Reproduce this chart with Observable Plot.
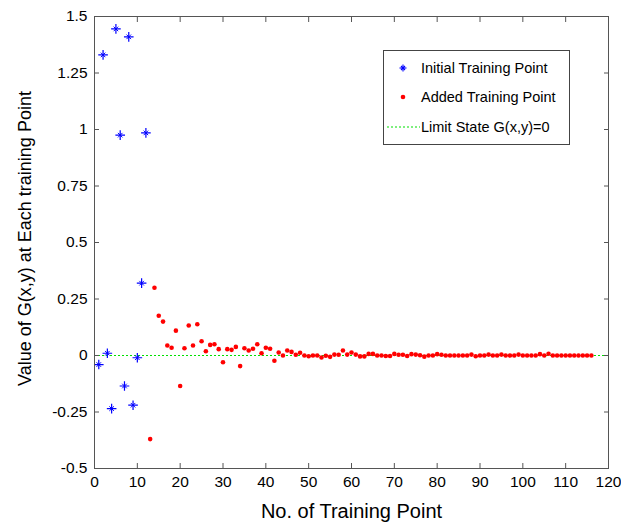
<!DOCTYPE html>
<html>
<head>
<meta charset="utf-8">
<script src="https://cdn.jsdelivr.net/npm/d3@7"></script>
<script src="https://cdn.jsdelivr.net/npm/@observablehq/plot@0.6"></script>
<style>
  body { margin: 0; background: white; }
  #wrap { position: relative; width: 621px; height: 524px; font-family: 'Liberation Sans', Arial, sans-serif; }
  #legend { position: absolute; left: 383px; top: 50px; width: 185px; height: 93px; border: 1px solid #444; background: white; font-size: 14.5px; }
  .row { position: absolute; left: 0; height: 20px; display: flex; align-items: center; white-space: nowrap; }
  .row svg { margin-right: 1px; }
</style>
</head>
<body>
<div id="wrap"></div>
<script>
const initialX = [1, 2, 3, 4, 5, 6, 7, 8, 9, 10, 11, 12];
const initialY = [-0.04, 1.33, 0.01, -0.235, 1.445, 0.975, -0.135, 1.41, -0.22, -0.01, 0.32, 0.985];
const addedStart = 13;
const addedY = [
  -0.37, 0.30, 0.176, 0.15, 0.044, 0.034, 0.11, -0.135, 0.032, 0.133,
  0.044, 0.138, 0.063, 0.019, 0.047, 0.05, 0.028, -0.03, 0.028, 0.025,
  0.038, -0.047, 0.032, 0.022, 0.03, 0.05, 0.01, 0.034, 0.03, -0.023,
  0.013, 0.0, 0.022, 0.016, 0.003, 0.012, 0.0, -0.003, 0.0, 0.0,
  -0.009, -0.001, -0.006, 0.004, 0.003, 0.022, 0.004, 0.013, 0.004, -0.004,
  -0.004, 0.007, 0.007, 0.0, 0.0, -0.002, -0.002, 0.007, 0.003, 0.003,
  -0.002, 0.006, 0.004, 0.001, -0.005, 0.0, 0.0, 0.006, 0.003, 0.0,
  0.0, 0.0, 0.0, 0.0, 0.0, 0.004, -0.003, 0.0, 0.0, 0.004,
  0.0, 0.0, 0.004, 0.0, 0.0, 0.0, 0.004, 0.0, 0.0, 0.0,
  0.0, 0.006, 0.0, 0.008, 0.0, 0.0, 0.0, 0.0, 0.0, 0.0,
  0.0, 0.0, 0.0, 0.0
];
const xTicks = [0, 10, 20, 30, 40, 50, 60, 70, 80, 90, 100, 110, 120];
const yTicks = [-0.5, -0.25, 0, 0.25, 0.5, 0.75, 1, 1.25, 1.5];
const xTitle = "No. of Training Point";
const yTitle = "Value of G(x,y) at Each training Point";
const limitValue = [0];
const legendLabels = ["Initial Training Point", "Added Training Point", "Limit State G(x,y)=0"];

const initial = initialX.map((x, i) => ({x, y: initialY[i]}));
const added = addedY.map((y, i) => ({x: addedStart + i, y}));

const axisColor = "#555";
const green = "#00e000";
const chart = Plot.plot({
  width: 621, height: 524,
  marginLeft: 94, marginRight: 13, marginTop: 16, marginBottom: 56,
  x: {domain: [0, 120]},
  y: {domain: [-0.5, 1.5]},
  style: {fontFamily: "'Liberation Sans', Arial, sans-serif", fontSize: "15.5px", color: "black", background: "white"},
  marks: [
    Plot.ruleY(limitValue, {stroke: green, strokeDasharray: "2,2", strokeWidth: 1.2}),
    Plot.dot(added, {x: "x", y: "y", r: 2.3, fill: "#ff0000", stroke: "none"}),
    Plot.dot(initial, {x: "x", y: "y", symbol: "plus", r: 3.2, stroke: "#0000ff", strokeWidth: 1.2}),
    Plot.dot(initial, {x: "x", y: "y", symbol: "times", r: 2.2, stroke: "#0000ff", strokeWidth: 1}),
    Plot.frame({stroke: axisColor}),
    Plot.axisX({ticks: xTicks, tickSize: -5, tickPadding: 12, tickFormat: d => String(d), stroke: axisColor, label: null}),
    Plot.axisX({anchor: "top", ticks: xTicks, tickSize: -5, tickFormat: () => "", stroke: axisColor, label: null}),
    Plot.axisY({ticks: yTicks, tickSize: -5, tickPadding: 12, tickFormat: d => String(d), stroke: axisColor, label: null}),
    Plot.axisY({anchor: "right", ticks: yTicks, tickSize: -5, tickFormat: () => "", stroke: axisColor, label: null}),
    Plot.text([xTitle], {frameAnchor: "bottom", dy: 49, fontSize: 20, textAnchor: "middle", text: d => d}),
    Plot.text([yTitle], {frameAnchor: "left", dx: -69, dy: -4, rotate: -90, fontSize: 18, textAnchor: "middle", text: d => d})
  ]
});
const wrap = document.getElementById("wrap");
wrap.appendChild(chart);

// legend
const legend = document.createElement("div");
legend.id = "legend";
const rowsTop = [7, 36, 66];
const symbols = [
  `<svg width="36" height="14"><g stroke="#0000ff" stroke-width="1.1"><line x1="19" y1="3.5" x2="19" y2="10.5"/><line x1="15.5" y1="7" x2="22.5" y2="7"/><line x1="17" y1="5" x2="21" y2="9"/><line x1="21" y1="5" x2="17" y2="9"/></g></svg>`,
  `<svg width="36" height="14"><circle cx="19" cy="7" r="2.3" fill="#ff0000"/></svg>`,
  `<svg width="36" height="14"><line x1="3" y1="7" x2="36" y2="7" stroke="${green}" stroke-width="1.2" stroke-dasharray="2,2"/></svg>`
];
legendLabels.forEach((lab, i) => {
  const r = document.createElement("div");
  r.className = "row";
  r.style.top = rowsTop[i] + "px";
  r.innerHTML = symbols[i] + `<span>${lab}</span>`;
  legend.appendChild(r);
});
wrap.appendChild(legend);
</script>
</body>
</html>
